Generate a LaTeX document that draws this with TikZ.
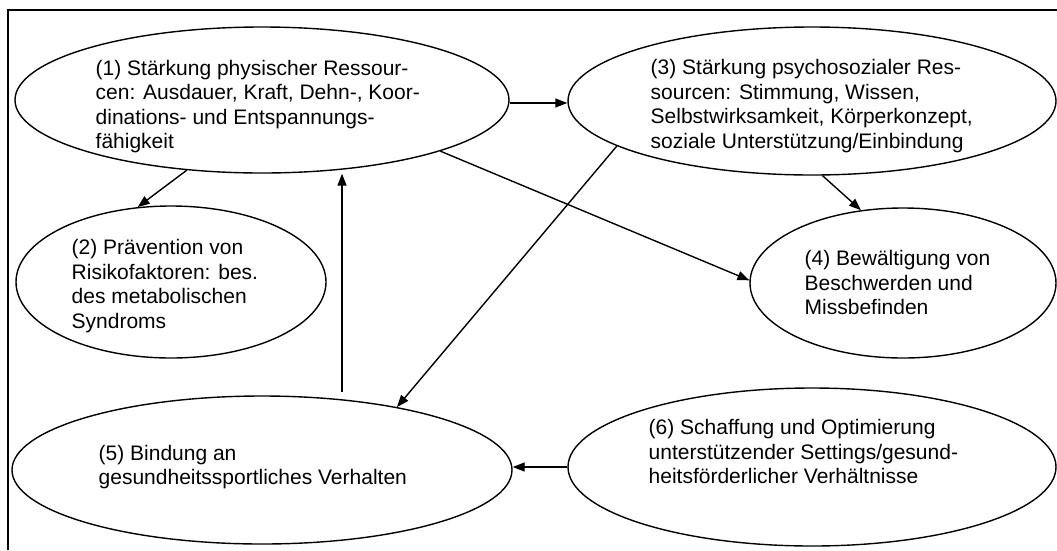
\documentclass[tikz,border=0pt]{standalone}
\usepackage{fontspec}
\setmainfont{Liberation Sans}
\usetikzlibrary{arrows.meta,shapes.geometric,calc}
\begin{document}
\begin{tikzpicture}[x=1pt,y=-1pt,
  ell/.style={draw, line width=1.4pt, ellipse, inner sep=0pt},
  txt/.style={anchor=north west, inner sep=0pt, align=left, font=\fontsize{21pt}{24.6pt}\selectfont},
  arr/.style={line width=1.4pt, -{Triangle[length=12pt,width=9pt]}},
  frame/.style={line width=2pt}]
\useasboundingbox (0,0) rectangle (1057,550);
\draw[frame] (8,550) -- (8,10) -- (1057,10);

\node[ell, minimum width=494pt, minimum height=146pt] (E1) at (262,100) {};
\node[ell, minimum width=488pt, minimum height=148pt] (E3) at (812,101) {};
\node[ell, minimum width=310pt, minimum height=152pt] (E2) at (171,282) {};
\node[ell, minimum width=306pt, minimum height=150pt] (E4) at (903,283) {};
\node[ell, minimum width=500pt, minimum height=148pt] (E5) at (262,470) {};
\node[ell, minimum width=488pt, minimum height=158pt] (E6) at (812,467) {};

\node[txt] (T1) at (95.5,59.7) {(1) Stärkung physischer Ressour-\\cen: Ausdauer, Kraft, Dehn-, Koor-\\dinations- und Entspannungs-\\fähigkeit};
\node[txt] (T3) at (650.5,59.2) {(3) Stärkung psychosozialer Res-\\sourcen: Stimmung, Wissen,\\Selbstwirksamkeit, Körperkonzept,\\soziale Unterstützung/Einbindung};
\node[txt] (T2) at (71.5,239.2) {(2) Prävention von\\Risikofaktoren: bes.\\des metabolischen\\Syndroms};
\node[txt] (T4) at (804.5,250.2) {(4) Bewältigung von\\Beschwerden und\\Missbefinden};
\node[txt] (T5) at (98.5,444.7) {(5) Bindung an\\gesundheitssportliches Verhalten};
\node[txt] (T6) at (648.5,419.2) {(6) Schaffung und Optimierung\\unterstützender Settings/gesund-\\heitsförderlicher Verhältnisse};

\coordinate (s5) at (342,392);
\draw[arr] (s5) -- (s5 |- E1.south);
\draw[arr] ([yshift=-3pt]E1.east) -- ([yshift=-3pt]E1.east -| E3.west);
\draw[arr] (E1.223.5) -- (E2.114);
\draw[arr] (E1.344) -- (E4.179);
\draw[arr] (E3.193) -- (E5.25);
\draw[arr] (E3.278) -- (E4.120);
\draw[arr] (E6.west) -- (E6.west -| E5.east);
\end{tikzpicture}
\end{document}
